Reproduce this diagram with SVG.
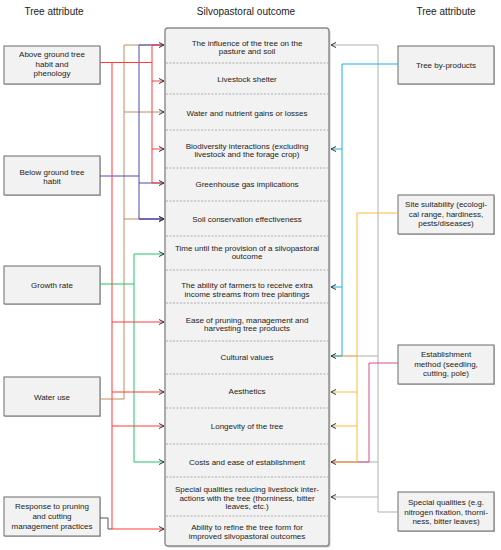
<svg xmlns="http://www.w3.org/2000/svg" width="501" height="550" viewBox="0 0 501 550">
<style>
text{font-family:"Liberation Sans",Arial,sans-serif;fill:#222;text-anchor:middle}
.h{font-size:10px}
.t{font-size:8px}
.box{fill:#f2f2f2;stroke:#6b6b6b;stroke-width:1}
.sh{fill:#c8c8c8}
.div{stroke:#999;stroke-width:0.8;stroke-dasharray:2,1.5}
.c{fill:none;stroke-width:1}
.red{stroke:#ff3b3b}.brn{stroke:#c08a5e}.blu{stroke:#4a4ab8}.grn{stroke:#22c466}
.sky{stroke:#1aaee8}.org{stroke:#fbb845}.pnk{stroke:#d84c8c}.gry{stroke:#b0b0b0}.dk{stroke:#555}
</style>
<defs>
<marker id="ar" viewBox="0 0 6 6" refX="5.5" refY="3" markerWidth="6" markerHeight="6" markerUnits="userSpaceOnUse" orient="auto">
<path d="M0.5,0.5 L5.5,3 L0.5,5.5" fill="none" stroke="#333" stroke-width="1"/>
</marker>
</defs>
<text class="h" x="54" y="14.5">Tree attribute</text>
<text class="h" x="246" y="14.5">Silvopastoral outcome</text>
<text class="h" x="446" y="14.5">Tree attribute</text>

<g id="outcomes">
<rect class="sh" x="166.5" y="29.5" width="164" height="518" rx="3"/>
<rect x="165" y="28" width="164" height="518" rx="3" fill="#f2f2f2" stroke="#8a8a8a" stroke-width="1.4"/>
<line class="div" x1="166" y1="63" x2="328" y2="63"/>
<line class="div" x1="166" y1="94" x2="328" y2="94"/>
<line class="div" x1="166" y1="130" x2="328" y2="130"/>
<line class="div" x1="166" y1="168" x2="328" y2="168"/>
<line class="div" x1="166" y1="201" x2="328" y2="201"/>
<line class="div" x1="166" y1="236" x2="328" y2="236"/>
<line class="div" x1="166" y1="270" x2="328" y2="270"/>
<line class="div" x1="166" y1="303" x2="328" y2="303"/>
<line class="div" x1="166" y1="341" x2="328" y2="341"/>
<line class="div" x1="166" y1="374" x2="328" y2="374"/>
<line class="div" x1="166" y1="408" x2="328" y2="408"/>
<line class="div" x1="166" y1="444" x2="328" y2="444"/>
<line class="div" x1="166" y1="477" x2="328" y2="477"/>
<line class="div" x1="166" y1="516" x2="328" y2="516"/>
<text class="t" x="247" y="45.5">The influence of the tree on the</text>
<text class="t" x="247" y="54">pasture and soil</text>
<text class="t" x="247" y="82">Livestock shelter</text>
<text class="t" x="247" y="116">Water and nutrient gains or losses</text>
<text class="t" x="247" y="149">Biodiversity interactions (excluding</text>
<text class="t" x="247" y="157">livestock and the forage crop)</text>
<text class="t" x="247" y="186.5">Greenhouse gas implications</text>
<text class="t" x="247" y="222">Soil conservation effectiveness</text>
<text class="t" x="247" y="250.5">Time until the provision of a silvopastoral</text>
<text class="t" x="247" y="258.5">outcome</text>
<text class="t" x="247" y="288">The ability of farmers to receive extra</text>
<text class="t" x="247" y="296.5">income streams from tree plantings</text>
<text class="t" x="247" y="322.5">Ease of pruning, management and</text>
<text class="t" x="247" y="331">harvesting tree products</text>
<text class="t" x="247" y="360">Cultural values</text>
<text class="t" x="247" y="394">Aesthetics</text>
<text class="t" x="247" y="429">Longevity of the tree</text>
<text class="t" x="247" y="465">Costs and ease of establishment</text>
<text class="t" x="247" y="492">Special qualities reducing livestock inter-</text>
<text class="t" x="247" y="500.5">actions with the tree (thorniness, bitter</text>
<text class="t" x="247" y="509">leaves, etc.)</text>
<text class="t" x="247" y="530">Ability to refine the tree form for</text>
<text class="t" x="247" y="538.5">improved silvopastoral outcomes</text>
</g>

<g id="above-ground">
<rect class="sh" x="5" y="47" width="96" height="38"/>
<rect class="box" x="4" y="46" width="96" height="38"/>
<text class="t" x="52" y="57">Above ground tree</text>
<text class="t" x="52" y="66.5">habit and</text>
<text class="t" x="52" y="76">phenology</text>
</g>
<g id="below-ground">
<rect class="sh" x="5" y="157" width="96" height="39"/>
<rect class="box" x="4" y="156" width="96" height="39"/>
<text class="t" x="52" y="175">Below ground tree</text>
<text class="t" x="52" y="184">habit</text>
</g>
<g id="growth-rate">
<rect class="sh" x="5" y="267" width="96" height="38"/>
<rect class="box" x="4" y="266" width="96" height="38"/>
<text class="t" x="52" y="287.5">Growth rate</text>
</g>
<g id="water-use">
<rect class="sh" x="5" y="378" width="96" height="39"/>
<rect class="box" x="4" y="377" width="96" height="39"/>
<text class="t" x="52" y="399.5">Water use</text>
</g>
<g id="response">
<rect class="sh" x="5" y="498" width="96" height="39"/>
<rect class="box" x="4" y="497" width="96" height="39"/>
<text class="t" x="52" y="509">Response to pruning</text>
<text class="t" x="52" y="519">and cutting</text>
<text class="t" x="52" y="528.5">management practices</text>
</g>
<g id="by-products">
<rect class="sh" x="399" y="47" width="96" height="38"/>
<rect class="box" x="398" y="46" width="96" height="38"/>
<text class="t" x="446" y="68">Tree by-products</text>
</g>
<g id="site-suitability">
<rect class="sh" x="399" y="196" width="96" height="39"/>
<rect class="box" x="398" y="195" width="96" height="39"/>
<text class="t" x="446" y="207">Site suitability (ecologi-</text>
<text class="t" x="446" y="216.5">cal range, hardiness,</text>
<text class="t" x="446" y="226">pests/diseases)</text>
</g>
<g id="establishment">
<rect class="sh" x="399" y="346" width="96" height="39"/>
<rect class="box" x="398" y="345" width="96" height="39"/>
<text class="t" x="446" y="357">Establishment</text>
<text class="t" x="446" y="366.5">method (seedling,</text>
<text class="t" x="446" y="376">cutting, pole)</text>
</g>
<g id="special-qualities">
<rect class="sh" x="399" y="493" width="96" height="39"/>
<rect class="box" x="398" y="492" width="96" height="39"/>
<text class="t" x="446" y="505">Special qualities (e.g.</text>
<text class="t" x="446" y="514.5">nitrogen fixation, thorni-</text>
<text class="t" x="446" y="524">ness, bitter leaves)</text>
</g>

<g id="connectors">
<!-- water use (brown) -->
<path class="c brn" d="M100,399 H124 V45 H164"/>
<line class="c brn" x1="124" y1="112" x2="164" y2="112" marker-end="url(#ar)"/>
<line class="c brn" x1="124" y1="219" x2="164" y2="219"/>
<!-- below ground (blue) -->
<path class="c blu" d="M100,176 H139"/>
<path class="c blu" d="M139,45 V219 H164" marker-end="url(#ar)"/>
<line class="c blu" x1="139" y1="45" x2="164" y2="45"/>
<line class="c blu" x1="139" y1="183" x2="164" y2="183"/>
<!-- growth rate (green) -->
<path class="c grn" d="M100,284 H134"/>
<path class="c grn" d="M134,254 V462 H164" marker-end="url(#ar)"/>
<line class="c grn" x1="134" y1="254" x2="164" y2="254" marker-end="url(#ar)"/>
<!-- above ground (red) -->
<path class="c red" d="M100,62.5 H152"/>
<path class="c red" d="M112,62.5 V529 H164" marker-end="url(#ar)"/>
<path class="c red" d="M152,45 V183 H164" marker-end="url(#ar)"/>
<line class="c red" x1="152" y1="45" x2="164" y2="45" marker-end="url(#ar)"/>
<line class="c red" x1="152" y1="81" x2="164" y2="81" marker-end="url(#ar)"/>
<line class="c red" x1="152" y1="149" x2="164" y2="149" marker-end="url(#ar)"/>
<line class="c blu" x1="139" y1="219" x2="164" y2="219" marker-end="url(#ar)"/>
<line class="c red" x1="112" y1="322" x2="164" y2="322" marker-end="url(#ar)"/>
<line class="c red" x1="112" y1="392" x2="164" y2="392" marker-end="url(#ar)"/>
<line class="c red" x1="112" y1="426" x2="164" y2="426" marker-end="url(#ar)"/>
<!-- response (dark) -->
<path class="c dk" d="M100,518 H108 V529 H112"/>
<!-- special qualities (gray) -->
<path class="c gry" d="M398,512 H378 V45 H331" marker-end="url(#ar)"/>
<line class="c gry" x1="378" y1="356" x2="331" y2="356"/>
<line class="c gry" x1="378" y1="462" x2="331" y2="462"/>
<line class="c gry" x1="378" y1="497" x2="331" y2="497" marker-end="url(#ar)"/>
<!-- establishment (pink) -->
<path class="c pnk" d="M398,363 H369 V462 H331"/>
<!-- site suitability (orange) -->
<path class="c org" d="M398,213 H357 V462 H331" marker-end="url(#ar)"/>
<line class="c org" x1="357" y1="356" x2="331" y2="356"/>
<line class="c org" x1="357" y1="392" x2="331" y2="392" marker-end="url(#ar)"/>
<line class="c org" x1="357" y1="426" x2="331" y2="426" marker-end="url(#ar)"/>
<!-- tree by-products (sky blue) -->
<path class="c sky" d="M398,64 H342 V356 H331" marker-end="url(#ar)"/>
<line class="c sky" x1="342" y1="149" x2="331" y2="149" marker-end="url(#ar)"/>
<line class="c sky" x1="342" y1="287" x2="331" y2="287" marker-end="url(#ar)"/>
</g>
</svg>
